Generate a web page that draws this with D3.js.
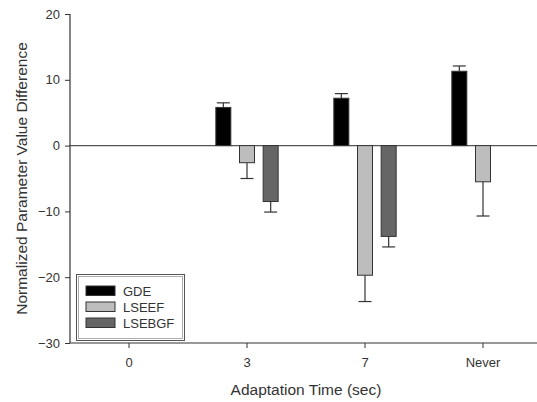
<!DOCTYPE html>
<html>
<head>
<meta charset="utf-8">
<script src="https://cdn.jsdelivr.net/npm/d3@7/dist/d3.min.js"></script>
<style>
  html, body { margin: 0; padding: 0; background: #fff; }
  svg { display: block; font-family: "Liberation Sans", Arial, sans-serif; }
</style>
</head>
<body>
<svg id="chart" width="537" height="402"></svg>
<script>
// Adaptation time groups and the three parameter series
const categories = ["0", "3", "7", "Never"];
const seriesNames = ["GDE", "LSEEF", "LSEBGF"];
const seriesColors = ["#000000", "#bdbdbd", "#666666"];
const gdeValues    = [null, 5.8, 7.2, 11.3];
const gdeErrors    = [null, 0.7, 0.7, 0.8];
const lseefValues  = [null, -2.6, -19.7, -5.5];
const lseefErrors  = [null, 2.4, 4.0, 5.2];
const lsebgfValues = [null, -8.5, -13.8, null];
const lsebgfErrors = [null, 1.6, 1.6, null];
const yTicks = [-30, -20, -10, 0, 10, 20];

const series = [
  { name: seriesNames[0], color: seriesColors[0], values: gdeValues, errors: gdeErrors },
  { name: seriesNames[1], color: seriesColors[1], values: lseefValues, errors: lseefErrors },
  { name: seriesNames[2], color: seriesColors[2], values: lsebgfValues, errors: lsebgfErrors }
];

const svg = d3.select("#chart");
const margin = { left: 70, top: 14, bottom: 343 };
const axisColor = "#333";
const textColor = "#333";
const tickFont = "13px";
const titleFont = "15.5px";

const x = d3.scaleBand().domain(categories).range([margin.left, margin.left + 472]).padding(0);
const y = d3.scaleLinear().domain([-30, 20]).range([margin.bottom, margin.top]);
const offset = d3.scaleBand().domain(seriesNames).range([-35.5, 35.5]);
const barW = 15;
const capW = 13;

// zero reference line
svg.append("line")
  .attr("x1", margin.left).attr("x2", 537)
  .attr("y1", y(0)).attr("y2", y(0))
  .attr("stroke", "#555").attr("stroke-width", 1.2);

// bars and one-sided error bars
series.forEach(s => {
  const pts = categories.map((c, i) => ({ c, v: s.values[i], e: s.errors[i] })).filter(d => d.v !== null);
  const cx = d => x(d.c) + x.bandwidth() / 2 + offset(s.name) + offset.bandwidth() / 2;
  const g = svg.append("g");
  pts.forEach(d => {
    const tip = d.v >= 0 ? d.v + d.e : d.v - d.e;
    g.append("line")
      .attr("x1", cx(d)).attr("x2", cx(d))
      .attr("y1", y(d.v)).attr("y2", y(tip))
      .attr("stroke", "#333").attr("stroke-width", 1.2);
    g.append("line")
      .attr("x1", cx(d) - capW / 2).attr("x2", cx(d) + capW / 2)
      .attr("y1", y(tip)).attr("y2", y(tip))
      .attr("stroke", "#333").attr("stroke-width", 1.2);
  });
  g.selectAll("rect").data(pts).join("rect")
    .attr("x", d => cx(d) - barW / 2)
    .attr("y", d => y(Math.max(0, d.v)))
    .attr("width", barW)
    .attr("height", d => Math.abs(y(d.v) - y(0)))
    .attr("fill", s.color)
    .attr("stroke", "#333").attr("stroke-width", 1);
});

// y axis
const yAxis = svg.append("g")
  .attr("transform", `translate(${margin.left},0)`)
  .call(d3.axisLeft(y).tickValues(yTicks).tickSize(5).tickPadding(5).tickFormat(d3.format("d")));
yAxis.select(".domain").attr("stroke", axisColor).attr("stroke-width", 1.2).attr("d", `M0,${margin.top}V${margin.bottom}`);
yAxis.selectAll(".tick line").attr("stroke", axisColor);
yAxis.selectAll(".tick text").attr("fill", textColor).style("font-size", tickFont).style("font-family", "Liberation Sans, Arial, sans-serif");

// x axis
const xAxis = svg.append("g")
  .attr("transform", `translate(0,${margin.bottom})`)
  .call(d3.axisBottom(x).tickSize(5).tickPadding(10));
xAxis.select(".domain").attr("stroke", axisColor).attr("stroke-width", 1.2).attr("d", `M${margin.left},0H537`);
xAxis.selectAll(".tick line").attr("stroke", axisColor);
xAxis.selectAll(".tick text").attr("fill", textColor).style("font-size", tickFont).style("font-family", "Liberation Sans, Arial, sans-serif");

// axis titles
svg.append("text")
  .attr("x", 306).attr("y", 395)
  .attr("text-anchor", "middle")
  .attr("fill", textColor)
  .style("font-size", titleFont)
  .text("Adaptation Time (sec)");
svg.append("text")
  .attr("transform", `translate(27,${(margin.top + margin.bottom) / 2}) rotate(-90)`)
  .attr("text-anchor", "middle")
  .attr("fill", textColor)
  .style("font-size", titleFont)
  .text("Normalized Parameter Value Difference");

// legend
const legend = svg.append("g");
legend.append("rect")
  .attr("x", 76.5).attr("y", 274.5).attr("width", 108).attr("height", 66)
  .attr("fill", "#fff").attr("stroke", "#555").attr("stroke-width", 1);
legend.append("rect")
  .attr("x", 78.5).attr("y", 276.5).attr("width", 104).attr("height", 62)
  .attr("fill", "none").attr("stroke", "#999").attr("stroke-width", 0.8);
series.forEach((s, i) => {
  const yy = 286 + i * 16;
  legend.append("rect")
    .attr("x", 86).attr("y", yy).attr("width", 29).attr("height", 9.5)
    .attr("fill", s.color).attr("stroke", "#333").attr("stroke-width", 1);
  legend.append("text")
    .attr("x", 123).attr("y", yy + 9.5)
    .attr("fill", textColor)
    .style("font-size", tickFont)
    .text(s.name);
});
</script>
</body>
</html>
